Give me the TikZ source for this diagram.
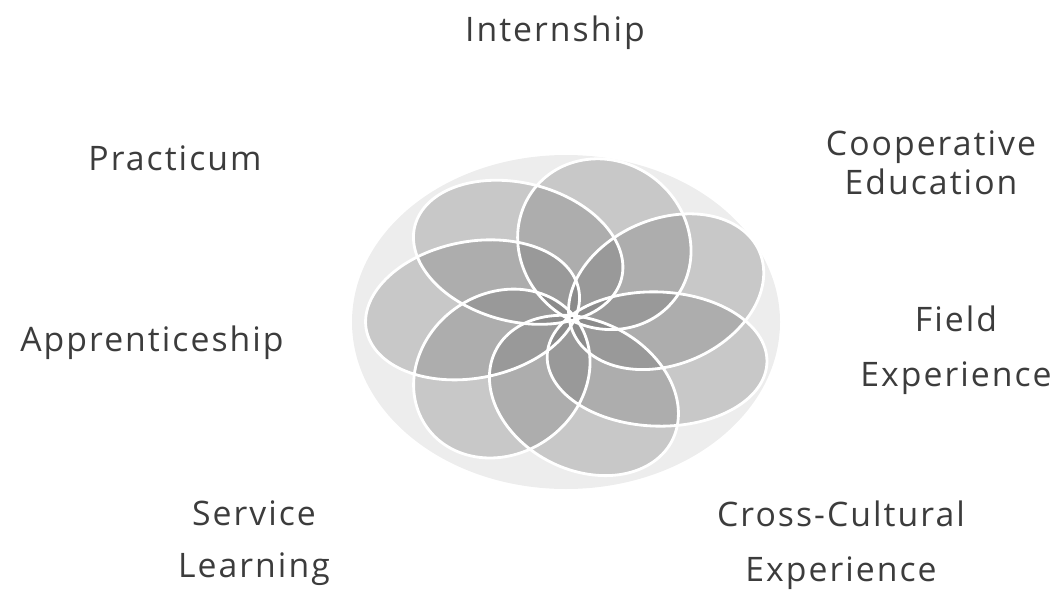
\documentclass[tikz,border=0pt]{standalone}
\usepackage{fontspec}
\setmainfont{Open Sans}[LetterSpace=6]
\definecolor{labelgray}{HTML}{3C3C3C}
\begin{document}
\begin{tikzpicture}
  [x=0.025cm,y=-0.025cm,
   every node/.style={font=\fontsize{24}{28}\selectfont,text=labelgray,align=center},
   petal/.style={fill=black!60,fill opacity=0.27},
   rim/.style={draw=white,line width=2pt}]
  \useasboundingbox (0,0) rectangle (1056,590);

  % the flower: seven leaves turned round the middle
  \fill[black!7] (566,322) ellipse (214 and 167);
  \begin{scope}[shift={(572,318)}]
  \begin{scope}[x=0.025cm,y=0.025cm,yscale=0.78]
    \foreach \k in {0,...,6}
      \fill[petal,rotate=174-51.43*\k,shift={(100,0)},rotate=28] (0,0) ellipse (110 and 86);
    \foreach \k in {0,...,6}
      \draw[rim,rotate=174-51.43*\k,shift={(100,0)},rotate=28] (0,0) ellipse (110 and 86);
  \end{scope}
  \end{scope}

  % labels
  \node (intern) at (555,33)  {Internship};
  \node (coop)   at (931,163) {Cooperative\\Education};
  \node (field)  at (956,350) {Field\\[11pt]Experience};
  \node (cross)  at (841,545) {Cross-Cultural\\[11pt]Experience};
  \node (serv)   at (254,543) {Service\\[9pt]Learning};
  \node (appr)   at (152,343) {Apprenticeship};
  \node (pract)  at (175,158) {Practicum};

\end{tikzpicture}
\end{document}
